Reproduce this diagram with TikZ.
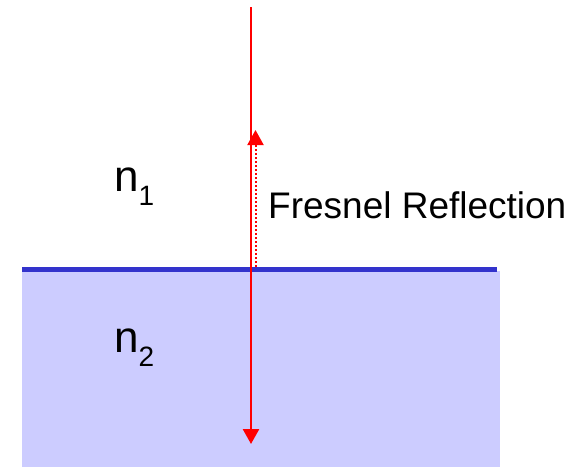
\documentclass[tikz,border=0pt]{standalone}
\usepackage{fontspec}
\setmainfont{Liberation Sans}
\usetikzlibrary{arrows.meta, positioning}
\definecolor{rayred}{HTML}{FF0000}
\definecolor{mediumfill}{HTML}{CCCCFF}
\definecolor{interfaceblue}{HTML}{3333CC}
\newcommand{\indexsub}[1]{\raisebox{-14pt}{\fontsize{28}{30}\selectfont #1}}

\begin{document}
\begin{tikzpicture}[
        x=1pt, y=-1pt,
        incident/.style={-{Triangle[length=15pt, width=16pt]}, line width=2.6pt, rayred},
        reflected/.style={-{Triangle[length=15pt, width=16pt]}, line width=2pt, rayred,
            dash pattern=on 2.2pt off 1.8pt},
        boundary/.style={line width=4.5pt, interfaceblue},
        indexlabel/.style={inner sep=0pt, anchor=base west, font=\fontsize{44}{50}\selectfont},
        caption/.style={inner sep=0pt, anchor=base west, font=\fontsize{37}{42}\selectfont}
    ]
        \useasboundingbox (0,0) rectangle (583,467);

        % second medium
        \fill[mediumfill] (22,271) rectangle (500,467);
        \coordinate (leftend) at (22,269.5);
        \coordinate (rightend) at (497,269.5);
        \draw[boundary] (leftend) -- (rightend);

        \node[indexlabel] (n1) at (114,191) {n\indexsub{1}};
        \node[indexlabel] (n2) at (114,352) {n\indexsub{2}};
        \node[caption] (fresnel) at (268,218) {Fresnel Reflection};

        % rays
        \coordinate (source) at (251,7);
        \coordinate (transmitted) at (251,444);
        \coordinate (hit) at (255.5,267);
        \coordinate (reflectedtip) at (255.5,130);
        \draw[reflected] (hit) -- (reflectedtip);
        \draw[incident] (source) -- (transmitted);
    \end{tikzpicture}
\end{document}
